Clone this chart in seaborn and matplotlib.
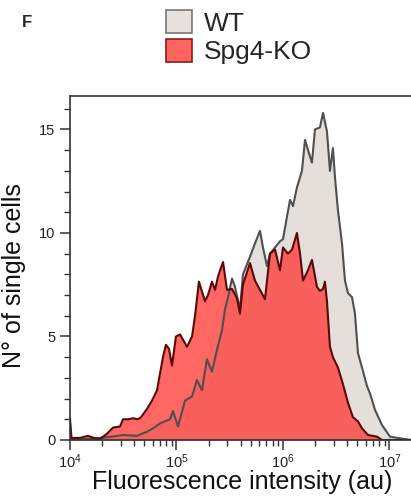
import matplotlib
matplotlib.use("Agg")
import matplotlib.pyplot as plt
import numpy as np
import pandas as pd
import seaborn as sns
from matplotlib.patches import Patch
from matplotlib.ticker import LogLocator, MultipleLocator

# log10 of fluorescence intensity and cell counts
wt_log = [4.000, 4.188, 4.376, 4.498, 4.629, 4.723, 4.779, 4.845, 4.892, 4.939,
          4.967, 5.014, 5.080, 5.146, 5.192, 5.239, 5.286, 5.333, 5.380, 5.427,
          5.455, 5.484, 5.521, 5.549, 5.596, 5.624, 5.690, 5.737, 5.784, 5.812,
          5.850, 5.878, 5.925, 5.972, 6.000, 6.038, 6.066, 6.094, 6.131, 6.178,
          6.207, 6.235, 6.272, 6.300, 6.347, 6.376, 6.413, 6.441, 6.469, 6.488,
          6.516, 6.554, 6.582, 6.610, 6.648, 6.676, 6.704, 6.742, 6.789, 6.817,
          6.864, 6.930, 7.005, 7.099, 7.202]
wt_count = [0.0, 0.05, 0.15, 0.24, 0.2, 0.4, 0.56, 0.8, 0.9, 1.0,
            1.4, 0.65, 1.9, 2.1, 2.9, 2.4, 3.9, 3.3, 4.35, 5.3,
            6.3, 6.9, 7.8, 7.4, 6.3, 8.0, 8.85, 9.5, 10.1, 9.3,
            8.4, 9.0, 9.3, 9.6, 9.7, 10.8, 11.6, 11.3, 12.2, 13.0,
            14.5, 14.0, 13.4, 15.0, 15.1, 15.8, 14.9, 13.0, 14.1, 12.7,
            11.1, 9.5, 7.7, 7.1, 6.9, 6.1, 4.2, 3.5, 2.6, 2.25,
            1.45, 0.72, 0.16, 0.08, 0.0]

ko_log = [4.000, 4.014, 4.094, 4.169, 4.225, 4.282, 4.347, 4.404, 4.469, 4.498,
          4.545, 4.592, 4.638, 4.667, 4.723, 4.770, 4.817, 4.845, 4.873, 4.901,
          4.930, 4.958, 4.995, 5.033, 5.099, 5.146, 5.174, 5.211, 5.268, 5.296,
          5.333, 5.362, 5.390, 5.437, 5.474, 5.521, 5.568, 5.596, 5.624, 5.690,
          5.737, 5.784, 5.831, 5.878, 5.925, 5.972, 6.000, 6.047, 6.085, 6.131,
          6.160, 6.188, 6.235, 6.272, 6.319, 6.347, 6.376, 6.394, 6.413, 6.441,
          6.469, 6.516, 6.563, 6.610, 6.657, 6.704, 6.742, 6.798, 6.883, 6.930,
          7.202]
ko_count = [1.05, 0.1, 0.1, 0.2, 0.1, 0.05, 0.3, 0.6, 0.65, 1.0,
            1.0, 1.05, 1.0, 1.1, 1.5, 1.9, 2.4, 3.2, 4.0, 4.6,
            4.4, 3.6, 5.0, 5.1, 4.5, 5.0, 6.0, 7.65, 6.7, 7.0,
            7.65, 7.25, 7.9, 8.6, 7.25, 7.3, 6.85, 6.1, 7.5, 8.55,
            7.7, 7.25, 6.8, 9.0, 9.2, 8.2, 9.3, 9.0, 9.2, 10.0,
            9.0, 7.7, 8.2, 8.7, 7.4, 7.2, 7.3, 7.65, 6.7, 4.5,
            4.0, 3.5, 2.7, 1.8, 1.1, 0.9, 0.56, 0.24, 0.16, 0.0,
            0.0]

labels = ["WT", "Spg4-KO"]

wt = pd.DataFrame({"intensity": np.power(10.0, wt_log), "count": wt_count})
ko = pd.DataFrame({"intensity": np.power(10.0, ko_log), "count": ko_count})

sns.set_style("ticks")
plt.rcParams["font.family"] = ["Liberation Sans", "DejaVu Sans"]
plt.rcParams["mathtext.fontset"] = "custom"
plt.rcParams["mathtext.rm"] = "Liberation Sans"

fig = plt.figure(figsize=(4.11, 4.98), dpi=100)
ax = fig.add_axes([0.1703, 0.1165, 0.8297, 0.6908])
ax.set_xscale("log")

ax.fill_between(wt["intensity"], wt["count"], color="#e4dfdb", lw=0)
sns.lineplot(data=wt, x="intensity", y="count", ax=ax, color="#4f4f4f",
             lw=1.5, sort=False)
ax.fill_between(ko["intensity"], ko["count"], color="#ff3c37", alpha=0.78, lw=0)
sns.lineplot(data=ko, x="intensity", y="count", ax=ax, color="#5a0808",
             lw=1.5, sort=False)

ax.set_xlim(1e4, 10 ** 7.202)
ax.set_ylim(0, 16.62)
ax.yaxis.set_major_locator(MultipleLocator(5))
ax.yaxis.set_minor_locator(MultipleLocator(1))
ax.xaxis.set_major_locator(LogLocator(base=10, numticks=10))
ax.xaxis.set_minor_locator(LogLocator(base=10, subs=np.arange(2, 10), numticks=20))

for side in ["left", "bottom", "top"]:
    ax.spines[side].set_color("#333333")
    ax.spines[side].set_linewidth(1.2)
ax.spines["right"].set_visible(False)
ax.tick_params(axis="both", which="major", length=7, width=1.1, color="#333333",
               labelsize=10.5, labelcolor="#222222")
ax.tick_params(axis="both", which="minor", length=4, width=1.0, color="#333333")
ax.tick_params(axis="x", pad=2)

ax.set_xlabel("Fluorescence intensity (au)", fontsize=18, color="#111111")
ax.set_ylabel("N° of single cells", fontsize=18, color="#111111")
ax.xaxis.set_label_coords(0.504, -0.086)
ax.yaxis.set_label_coords(-0.128, 0.477)

handles = [Patch(facecolor="#e6e1dd", edgecolor="#777777", lw=1.2),
           Patch(facecolor="#ff6461", edgecolor="#8c1a1a", lw=1.2)]
fig.legend(handles, labels, loc="upper left", bbox_to_anchor=(0.365, 1.012),
           frameon=False, fontsize=19, handlelength=0.98, handleheight=0.98,
           handletextpad=0.45, labelspacing=0.12, borderaxespad=0.2)

fig.text(0.066, 0.955, "F", fontsize=12, fontweight="bold", ha="center", va="center")

fig.savefig("out.png", dpi=100)
